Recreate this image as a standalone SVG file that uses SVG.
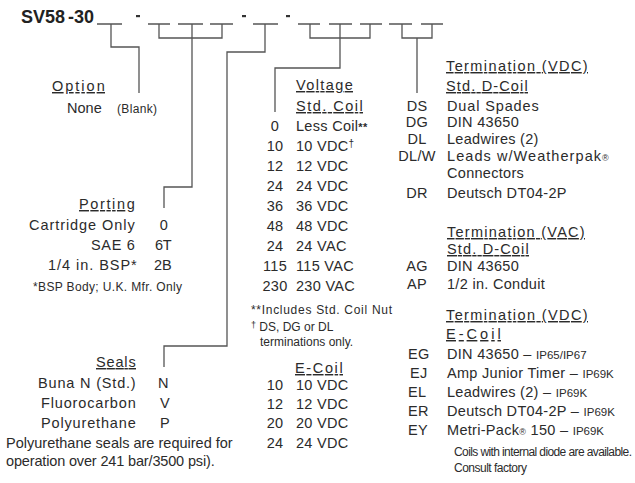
<svg xmlns="http://www.w3.org/2000/svg" width="635" height="483" viewBox="0 0 635 483">
<style>
text{font-family:"Liberation Sans",Arial,sans-serif;font-size:14.5px;fill:#2b2b2b;letter-spacing:0.3px}
.t{font-size:18px;font-weight:bold;fill:#222;letter-spacing:0}
.h{text-decoration:underline}
.s{font-size:12px;letter-spacing:0}
.m{text-anchor:middle}
.w{stroke:#555;stroke-width:1.3;fill:none}
.d{fill:#333}
.ip{font-size:11.5px;letter-spacing:0}
</style>
<rect width="635" height="483" fill="#fff"/>
<g id="title">
<text class="t" y="23"><tspan x="21">SV58</tspan><tspan x="68">-30</tspan></text>
<rect class="d" x="136" y="15" width="4" height="2.2"/>
<rect class="d" x="242" y="15" width="4" height="2.2"/>
<rect class="d" x="286" y="15" width="4" height="2.2"/>
</g>
<g id="connectors" class="w">
<path d="M97 24H122M148 24H170M178 24H203M210 24H233M253 24H278M298 24H320M329 24H352M360 24H382M389 24H412M421 24H443"/>
<path d="M111 24V47H139V93"/>
<path d="M159 24V38H222V24M192 24V187H164V208"/>
<path d="M265 24V52H227V346H164V367"/>
<path d="M310 24V38H370V24M340 24V68H275V112"/>
<path d="M402 24V38H432V24M417 38V93"/>
</g>
<g id="option">
<text class="h" x="52" y="91" textLength="53">Option</text>
<text x="67" y="113" textLength="35">None</text>
<text class="s" x="117" y="113" textLength="40">(Blank)</text>
</g>
<g id="porting">
<text class="h" x="79" y="209" textLength="56">Porting</text>
<text x="29" y="230" textLength="106">Cartridge Only</text>
<text class="m" x="164" y="230">0</text>
<text x="91" y="250" textLength="44">SAE 6</text>
<text x="155" y="250" textLength="17">6T</text>
<text x="48" y="270" textLength="89">1/4 in. BSP*</text>
<text x="154" y="270" textLength="18">2B</text>
<text class="s" x="33" y="291" textLength="149">*BSP Body; U.K. Mfr. Only</text>
</g>
<g id="seals">
<text class="h" x="96" y="367" textLength="40">Seals</text>
<text x="38" y="388" textLength="98">Buna N (Std.)</text>
<text x="158" y="388">N</text>
<text x="41" y="408" textLength="95">Fluorocarbon</text>
<text x="160" y="408">V</text>
<text x="41" y="428" textLength="95">Polyurethane</text>
<text x="160" y="428">P</text>
<text x="6" y="448" textLength="227">Polyurethane seals are required for</text>
<text x="6" y="466" textLength="209">operation over 241 bar/3500 psi).</text>
</g>
<g id="voltage">
<text class="h" x="296" y="90" textLength="57">Voltage</text>
<text class="h" x="296" y="111" textLength="67">Std. Coil</text>
<text class="m" x="275" y="131">0</text><text x="296" y="131">Less Coil<tspan font-size="11" font-weight="bold">**</tspan></text>
<text class="m" x="275" y="151">10</text><text x="296" y="151">10 VDC<tspan font-size="10" dy="-4">†</tspan></text>
<text class="m" x="275" y="171">12</text><text x="296" y="171">12 VDC</text>
<text class="m" x="275" y="191">24</text><text x="296" y="191">24 VDC</text>
<text class="m" x="275" y="211">36</text><text x="296" y="211">36 VDC</text>
<text class="m" x="275" y="231">48</text><text x="296" y="231">48 VDC</text>
<text class="m" x="275" y="251">24</text><text x="296" y="251">24 VAC</text>
<text class="m" x="275" y="271">115</text><text x="296" y="271">115 VAC</text>
<text class="m" x="275" y="291">230</text><text x="296" y="291">230 VAC</text>
<text class="s" x="251" y="314" textLength="141">**Includes Std. Coil Nut</text>
<text class="s" x="251" y="331"><tspan font-size="9" dy="-3">†</tspan><tspan dy="3"> DS, DG or DL</tspan></text>
<text class="s" x="260" y="346">terminations only.</text>
</g>
<g id="ecoil-voltage">
<text class="h" x="295" y="373" textLength="48">E-Coil</text>
<text class="m" x="275" y="390">10</text><text x="296" y="390">10 VDC</text>
<text class="m" x="275" y="409">12</text><text x="296" y="409">12 VDC</text>
<text class="m" x="275" y="428">20</text><text x="296" y="428">20 VDC</text>
<text class="m" x="275" y="448">24</text><text x="296" y="448">24 VDC</text>
</g>
<g id="termination-vdc">
<text class="h" x="446" y="71" textLength="142">Termination (VDC)</text>
<text class="h" x="446" y="91" textLength="82">Std. D-Coil</text>
<text class="m" x="417" y="111">DS</text><text x="447" y="111" textLength="92">Dual Spades</text>
<text class="m" x="417" y="127">DG</text><text x="447" y="127">DIN 43650</text>
<text class="m" x="417" y="144">DL</text><text x="447" y="144">Leadwires (2)</text>
<text class="m" x="417" y="161">DL/W</text><text x="447" y="161" textLength="162">Leads w/Weatherpak<tspan font-size="9">®</tspan></text>
<text x="447" y="178">Connectors</text>
<text class="m" x="417" y="198">DR</text><text x="447" y="198">Deutsch DT04-2P</text>
</g>
<g id="termination-vac">
<text class="h" x="447" y="237" textLength="138">Termination (VAC)</text>
<text class="h" x="447" y="254" textLength="82">Std. D-Coil</text>
<text class="m" x="417" y="271">AG</text><text x="447" y="271">DIN 43650</text>
<text class="m" x="417" y="289">AP</text><text x="447" y="289">1/2 in. Conduit</text>
</g>
<g id="termination-ecoil">
<text class="h" x="446" y="320" textLength="142">Termination (VDC)</text>
<text class="h" x="446" y="339" textLength="55">E-Coil</text>
<text x="408" y="359">EG</text><text x="447" y="359">DIN 43650 – <tspan class="ip">IP65/IP67</tspan></text>
<text x="410" y="378">EJ</text><text x="447" y="378">Amp Junior Timer – <tspan class="ip">IP69K</tspan></text>
<text x="408" y="397">EL</text><text x="447" y="397">Leadwires (2) – <tspan class="ip">IP69K</tspan></text>
<text x="408" y="416">ER</text><text x="447" y="416">Deutsch DT04-2P – <tspan class="ip">IP69K</tspan></text>
<text x="408" y="435">EY</text><text x="447" y="435">Metri-Pack<tspan font-size="9">®</tspan> 150 – <tspan class="ip">IP69K</tspan></text>
<text class="s" x="454" y="456" textLength="178">Coils with internal diode are available.</text>
<text class="s" x="454" y="472" textLength="73">Consult factory</text>
</g>
</svg>
